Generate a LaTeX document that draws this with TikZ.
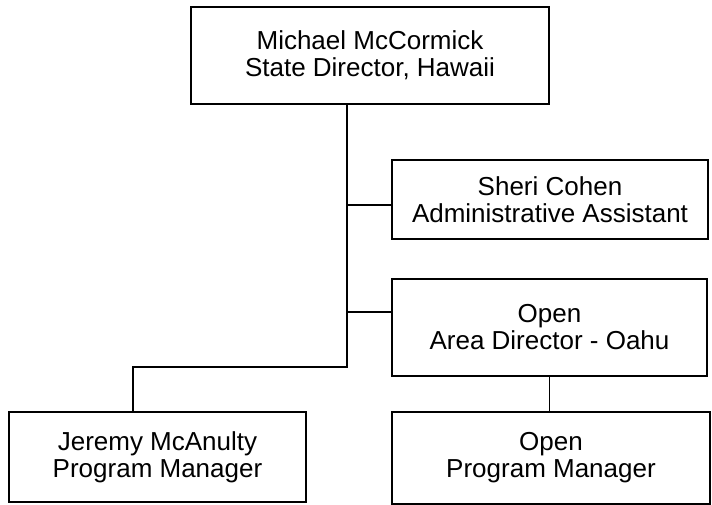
\documentclass[tikz,border=0pt]{standalone}
\usepackage{fontspec}
\setmainfont{Liberation Sans}
\begin{document}
\begin{tikzpicture}[x=1pt,y=-1pt,
  orgbox/.style={draw=black, line width=1.2pt, rectangle, inner sep=0pt, align=center,
    font=\fontsize{26}{27}\selectfont},
  link/.style={draw=black, line width=1.2pt}]
\useasboundingbox (0,0) rectangle (712,505);
\fill[white] (0,0) rectangle (712,505);
\node[orgbox, minimum width=358pt, minimum height=97pt] (top) at (370,55.5) {Michael McCormick\\State Director, Hawaii};
\node[orgbox, minimum width=316pt, minimum height=79pt] (sheri) at (550,199.5) {Sheri Cohen\\Administrative Assistant};
\node[orgbox, line width=1.8pt, minimum width=315pt, minimum height=97pt] (oad) at (549.5,327.5) {Open\\Area Director - Oahu};
\node[orgbox, minimum width=297pt, minimum height=90pt] (jer) at (157.5,457) {Jeremy McAnulty\\Program Manager};
\node[orgbox, minimum width=318pt, minimum height=92pt] (opm) at (551,458) {Open\\Program Manager};
\coordinate (j1) at (347,367);
\coordinate (j2) at (133,367);
\coordinate (c1) at (347,205);
\coordinate (c2) at (347,312);
\draw[link] (top.south -| j1) -- (j1) -- (j2) -- (j2 |- jer.north);
\draw[link] (c1) -- (c1 -| sheri.west);
\draw[link] (c2) -- (c2 -| oad.west);
\draw[link] (oad.south) -- (oad.south |- opm.north);
\end{tikzpicture}
\end{document}
